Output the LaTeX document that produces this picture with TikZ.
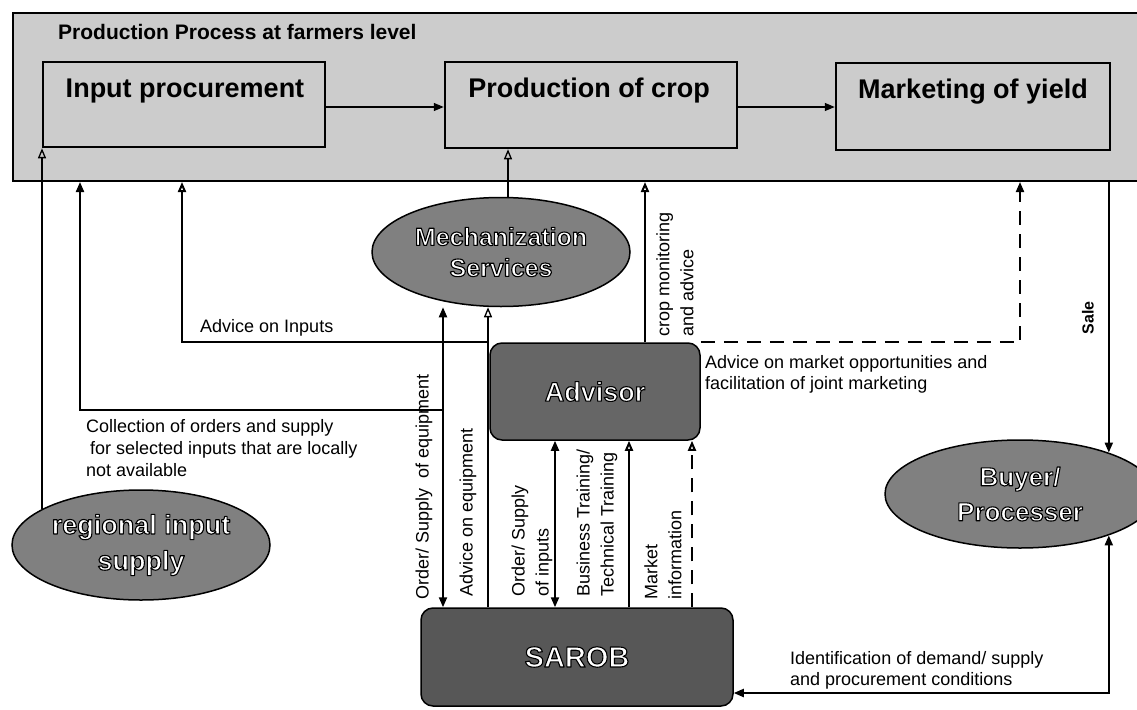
\documentclass[tikz,border=0pt]{standalone}
\usepackage{fontspec}
\setmainfont{Liberation Sans}
\usetikzlibrary{arrows.meta,shapes.geometric}
\definecolor{lightfill}{gray}{0.80}
\definecolor{ellfill}{gray}{0.50}
\definecolor{advfill}{gray}{0.40}
\definecolor{sarobfill}{gray}{0.34}
\newcommand\outl[1]{\special{pdf:literal direct 2 Tr 1.1 w 1 j 0 G}#1\special{pdf:literal direct 0 Tr}}
\begin{document}
\begin{tikzpicture}[x=1pt,y=-1pt,
  outerbox/.style={rectangle, draw=black, line width=2pt, fill=lightfill, inner sep=0pt},
  procbox/.style={rectangle, draw=black, line width=2.5pt, fill=lightfill, inner sep=0pt},
  boxtext/.style={inner sep=0pt, font=\bfseries\fontsize{27}{32}\selectfont},
  oval/.style={ellipse, draw=black, line width=1.5pt, fill=ellfill, inner sep=0pt, text=white, align=center},
  actor/.style={rectangle, rounded corners=12pt, draw=black, line width=1.5pt, inner sep=0pt, text=white},
  lbl/.style={inner sep=0pt, align=left, font=\fontsize{18}{22}\selectfont},
  vlbl/.style={inner sep=0pt, align=left, rotate=90, anchor=west, font=\fontsize{18}{24}\selectfont},
  conn/.style={draw=black, line width=2pt},
  lightconn/.style={draw=black, line width=1.3pt},
  toF/.style={-{Triangle[length=10pt,width=8pt]}},
  toO/.style={-{Triangle[open,length=10pt,width=8pt]}},
  bothF/.style={{Triangle[length=10pt,width=8pt]}-{Triangle[length=10pt,width=8pt]}},
  dashline/.style={dash pattern=on 14pt off 9pt}
]
\useasboundingbox (0,0) rectangle (1137,709);

% columns and rows
\coordinate (cB) at (80,0);
\coordinate (cC) at (182,0);
\coordinate (cD) at (443,0);
\coordinate (cE) at (488,0);
\coordinate (cF) at (508,0);
\coordinate (cG) at (555,0);
\coordinate (cH) at (629,0);
\coordinate (cI) at (645,0);
\coordinate (cJ) at (692,0);
\coordinate (cK) at (1020,0);
\coordinate (rP) at (0,107);
\coordinate (rA) at (0,342);
\coordinate (rB) at (0,410);
\coordinate (rC) at (0,693);

% production process frame
\node[outerbox, minimum width=1128pt, minimum height=168pt] (outer) at (577,97) {};
\node[inner sep=0pt, anchor=base west, font=\bfseries\fontsize{21}{25}\selectfont] (title) at (58,40) {Production Process at farmers level};

\node[procbox, minimum width=282pt, minimum height=85pt] (inproc) at (184,104.5) {};
\node[boxtext, anchor=base] (inproct) at (185,97) {Input procurement};
\node[procbox, minimum width=292pt, minimum height=86pt] (prod) at (591,105) {};
\node[boxtext, anchor=base] (prodt) at (589,97) {Production of crop};
\node[procbox, minimum width=274pt, minimum height=87pt] (mkt) at (973,106.5) {};
\node[boxtext, anchor=base] (mktt) at (973,98) {Marketing of yield};

% actors
\node[oval, minimum width=258pt, minimum height=109pt, font=\bfseries\fontsize{25}{31}\selectfont] (mech) at (501,252) {\outl{Mechanization}\\\outl{Services}};
\node[oval, minimum width=258pt, minimum height=110pt, font=\bfseries\fontsize{27}{36}\selectfont] (reg) at (141,545) {\outl{regional input}\\\outl{supply}};
\node[oval, minimum width=270pt, minimum height=108pt, font=\bfseries\fontsize{26}{35}\selectfont] (buyer) at (1020,494) {\outl{Buyer/}\\\outl{Processer}};
\node[actor, fill=advfill, minimum width=210pt, minimum height=97pt, font=\bfseries\fontsize{27}{32}\selectfont] (advisor) at (595,391.5) {\outl{Advisor}};
\node[actor, fill=sarobfill, minimum width=312pt, minimum height=98pt, font=\bfseries\fontsize{29}{34}\selectfont] (sarob) at (577,657) {\raisebox{-10pt}{\outl{SAROB}}};

% connectors
\draw[lightconn,toF] (inproc.east |- rP) -- (prod.west |- rP);
\draw[lightconn,toF] (prod.east |- rP) -- (mkt.west |- rP);
\draw[lightconn,toO] (reg.160) -- (reg.160 |- inproc.south);
\draw[lightconn,toO] (mech.north -| cF) -- (prod.south -| cF);
\draw[conn,toF] (cD |- rB) -| (cB |- outer.south);
\draw[conn,toO] (cE |- rA) -| (cC |- outer.south);
\draw[conn,bothF] (sarob.north -| cD) -- (mech.south -| cD);
\draw[lightconn,toO] (sarob.north -| cE) -- (mech.south -| cE);
\draw[conn,toO] (advisor.north -| cI) -- (outer.south -| cI);
\draw[conn,dashline,toF] (advisor.north east) -| (outer.south -| cK);
\draw[conn,toF] (outer.south -| buyer.25) -- (buyer.25);
\draw[conn,bothF] (buyer.-25) |- (sarob.east |- rC);
\draw[conn,bothF] (advisor.south -| cG) -- (sarob.north -| cG);
\draw[conn,toO] (sarob.north -| cH) -- (advisor.south -| cH);
\draw[conn,dashline,toO] (sarob.north -| cJ) -- (advisor.south -| cJ);

% labels
\node[lbl, anchor=base west] (lAdvIn) at (200,332) {Advice on Inputs};
\node[lbl, anchor=north west] (lColl) at (86,419) {Collection of orders and supply\\\hspace*{4pt}for selected inputs that are locally\\not available};
\node[lbl, anchor=north west, font=\fontsize{18}{21}\selectfont] (lMkt) at (705,355) {Advice on market opportunities and\\facilitation of joint marketing};
\node[lbl, anchor=north west, font=\fontsize{18}{21}\selectfont] (lId) at (790,651) {Identification of demand/ supply\\and procurement conditions};
\node[vlbl] (lOSE) at (424,600) {Order/ Supply\hspace{5pt} of equipment};
\node[vlbl] (lAE) at (468,597) {Advice on equipment};
\node[vlbl] (lOSI) at (532,597) {Order/ Supply\\of inputs};
\node[vlbl] (lBT) at (597,597) {Business Training/\\Technical Training};
\node[vlbl] (lMI) at (663,600) {Market\\information};
\node[vlbl] (lCM) at (675,337) {crop monitoring\\and advice};
\node[vlbl, anchor=center, font=\bfseries\fontsize{16}{20}\selectfont] (lSale) at (1088,318) {Sale};
\end{tikzpicture}
\end{document}
